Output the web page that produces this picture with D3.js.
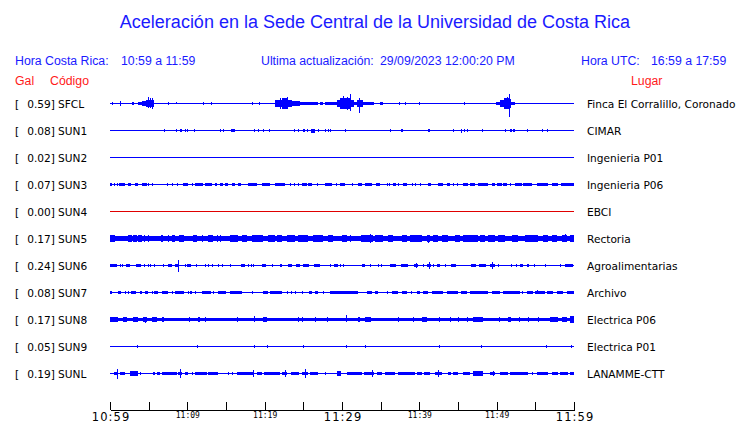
<!DOCTYPE html>
<html><head><meta charset="utf-8">
<script src="https://cdn.jsdelivr.net/npm/d3@7"></script>
<style>
html,body{margin:0;padding:0;background:#fff;}
svg{display:block;}
</style></head>
<body>
<script>
// ---------- DATA ----------
const codes  = ["SFCL","SUN1","SUN2","SUN3","SUN4","SUN5","SUN6","SUN7","SUN8","SUN9","SUNL"];
const peaks  = [0.59,0.08,0.02,0.07,0.00,0.17,0.24,0.08,0.17,0.05,0.19];
const places = ["Finca El Corralillo, Coronado","CIMAR","Ingenieria P01","Ingenieria P06","EBCI","Rectoria",
                "Agroalimentarias","Archivo","Electrica P06","Electrica P01","LANAMME-CTT"];
// continuous background noise (Gal, half amplitude)
const bandAmp = [0,0,0,0,0,0.075,0,0,0.07,0,0];
const tickMinutes = [0,5,10,15,20,25,30,35,40,45,50,55,60];
const tickLabels  = {0:"10:59",10:"11:09",20:"11:19",30:"11:29",40:"11:39",50:"11:49",60:"11:59"};
const majorTicks  = [0,30,60];

// envelope events: [startMin, endMin, upGal, downGal(optional)]
const sfcl = [[0.3,0.3,0.05],[1.29,1.29,0.085],[2.8,3.1,0.05],
 [3.66,4.1,0.05],[4.1,4.7,0.1],[4.7,5.7,0.15],[4.96,4.96,0.27,0.2],[5.17,5.17,0.22,0.2],[5.39,5.39,0.25,0.22],
 [7.54,7.54,0.065],[8.5,8.5,0.05,0],[12.07,12.07,0.065],[13.06,13.06,0.04],[18.3,18.3,0.065],[19.3,19.3,0.04],
 [21.3,21.8,0.13],[21.8,23.5,0.17],[22.3,22.9,0.22],[22.0,22.0,0.22,0.25],[22.85,22.85,0.27,0.26],[23.5,24.6,0.1],[24.6,26.9,0.07],
 [27.1,27.6,0.05],[27.8,29.5,0.07],
 [29.4,29.8,0.15],[29.8,31.2,0.24],[30.17,30.17,0.33,0.25],[30.6,30.6,0.3,0.3],[31.03,31.03,0.45,0.35],[31.2,31.5,0.15],
 [31.5,32.0,0.07],[32.0,32.7,0.15],[32.24,32.24,0.23,0.43],[32.7,34.2,0.07],[34.9,35.3,0.07],[37.4,37.4,0.065],[38.2,38.2,0.04],
 [40.0,40.0,0.065],[45.8,45.8,0.065],
 [49.9,50.4,0.07],[50.4,51.0,0.15],[51.0,51.6,0.22],[51.3,51.3,0.3,0.25],[51.64,51.64,0.46,0.62],[51.6,51.9,0.2],[51.9,52.4,0.07]];
const sun1 = [[7.0,7.0,0.065],[8.5,8.5,0.04],[9.05,9.35,0.065],[9.75,9.75,0.065],[9.95,9.95,0.065],[10.9,10.9,0.065],
 [14.2,14.2,0.065],[14.65,14.65,0.05],[15.65,16.2,0.065],[18.66,18.66,0.065],[19.2,19.2,0.065],[19.8,19.8,0.065],[20.6,20.6,0.065],
 [23.8,23.8,0.065],[24.3,24.3,0.065],[25.0,25.2,0.065],[25.45,25.45,0.05],[26.0,26.5,0.065,0.12],[26.9,26.9,0.065],[27.8,27.8,0.065],
 [28.2,28.2,0.065],[28.45,28.45,0.065],[30.4,30.4,0.04],[36.2,36.2,0.065],[37.6,37.9,0.065],[41.1,41.1,0.065],[41.3,41.3,0.05],
 [44.4,44.4,0.065],[45.4,45.4,0.05,0.12],[45.8,45.8,0.065],[46.2,46.2,0.065],[48.1,48.1,0.065],[51.1,51.1,0.065],[51.7,52.0,0.065],
 [52.05,52.4,0.065],[53.9,53.9,0.065],[55.8,55.8,0.065],[56.5,56.5,0.065]];
const sun2 = [];
const sun3 = [[0,0.2,0.06],[0.56,0.56,0.06],[0.86,0.86,0.06],[1.16,1.94,0.06],[2.28,2.71,0.06],[3.23,3.66,0.06],[4.09,4.74,0.06],
 [4.96,4.96,0.06],[5.39,5.39,0.06],[7.33,7.54,0.06],[7.97,7.97,0.06],[8.62,8.84,0.06],[9.48,10.13,0.06],[10.56,10.56,0.06],
 [10.99,12.07,0.06],[12.28,13.15,0.06],[13.58,13.79,0.06],[14.22,14.65,0.06],[14.87,15.3,0.06],[15.73,16.16,0.06],[16.59,16.94,0.06],
 [17.89,18.97,0.06],[19.61,20.69,0.06],[21.34,22.63,0.06],[23.28,23.28,0.06],[23.84,23.84,0.06],[24.27,24.44,0.06],[24.78,25.43,0.06],
 [25.65,26.16,0.06],[26.72,26.72,0.06],[27.8,28.66,0.06],[29.18,29.18,0.06],[29.74,30.39,0.06],[31.25,31.25,0.06],[32.03,32.54,0.06],
 [32.97,33.84,0.06],[34.35,34.96,0.06],[35.78,35.78,0.06],[36.08,36.08,0.06],[36.64,36.94,0.06],[37.28,37.28,0.06],[37.85,38.36,0.06],
 [39.01,39.01,0.06],[39.44,39.44,0.06],[40.09,40.09,0.06],[41.16,41.51,0.06],[42.46,43.1,0.06],[43.53,43.97,0.06],[44.4,44.4,0.06],
 [44.83,45.04,0.06],[45.69,46.34,0.06],[46.55,47.2,0.06],[47.63,48.92,0.06],[49.35,49.78,0.06],[50.0,50.65,0.06],[50.86,51.29,0.06],
 [51.72,51.72,0.06],[52.37,53.23,0.06],[53.45,54.53,0.06],[55.17,56.68,0.06],[57.11,57.97,0.06],[58.32,60,0.06]];
const sun4 = [];
const sun5 = [[0,0.65,0.125],[2.37,2.8,0.125],[3.02,3.45,0.125],[3.66,4.09,0.125],[4.44,4.44,0.125],[4.96,4.96,0.125],[6.6,6.9,0.125],
 [7.54,7.54,0.125],[7.97,8.4,0.125],[8.92,9.48,0.125],[9.4,9.4,0.17,0.125],[10.78,11.21,0.125],[11.85,11.85,0.125],[12.72,13.36,0.125],
 [13.79,13.79,0.125],[14.22,14.22,0.125],[15.52,16.59,0.125],[17.03,17.67,0.125],[18.32,19.83,0.125],[20.47,21.34,0.125],[21.55,22.2,0.125],
 [22.85,23.92,0.125],[24.35,25.65,0.125],[26.29,27.59,0.125],[28.23,28.88,0.125],[29.96,30.6,0.125],[31.03,31.03,0.125],[32.46,34.05,0.125],
 [33.62,33.62,0.21,0.21],[34.27,35.35,0.125],[35.99,36.64,0.125],[37.71,38.36,0.125],[38.79,40.3,0.125],[40.95,41.38,0.125],
 [41.08,41.08,0.15,0.21],[41.81,42.46,0.125],[42.97,43.75,0.125],[44.61,45.26,0.125],[45.69,47.63,0.125],[47.85,48.49,0.125],
 [48.92,49.78,0.125],[50.22,51.08,0.125],[51.94,52.8,0.125],[53.66,55.39,0.125],[56.03,56.68,0.125],[57.11,57.76,0.125],[58.41,59.05,0.125],
 [58.83,58.83,0.18,0.17],[59.48,60,0.125]];
const sun6 = [[0,0.86,0.065],[1.29,1.29,0.065],[1.51,1.51,0.065],[2.03,2.59,0.065],[3.32,4.01,0.065],[4.44,4.44,0.065],[4.87,4.87,0.065],
 [5.17,5.17,0.065],[5.73,5.73,0.065],[6.81,6.81,0.065],[7.54,7.97,0.065],[8.4,8.92,0.065],[8.75,8.75,0.23,0.27],[9.7,9.7,0.065],
 [9.91,10.47,0.065],[11.08,11.08,0.065],[12.28,12.28,0.065],[12.72,12.72,0.065],[13.23,13.23,0.065],[14.01,14.01,0.065],[14.53,14.53,0.065],
 [15.52,15.52,0.065],[16.94,17.46,0.065],[17.8,17.8,0.065],[18.23,18.23,0.065],[18.53,18.53,0.065],[19.61,20.13,0.065],[20.99,20.99,0.065],
 [21.98,22.28,0.065],[23.06,23.49,0.065],[24.05,24.57,0.065],[24.91,25.73,0.065],[26.42,27.15,0.065],[28.45,28.45,0.065],[29.01,29.44,0.065],
 [29.74,29.74,0.065],[30.17,30.17,0.065],[32.54,32.97,0.065],[33.62,33.62,0.065],[34.61,34.61,0.065],[35.04,35.04,0.065],[36.21,36.94,0.065],
 [37.63,38.58,0.065],[39.35,39.87,0.065],[39.57,39.57,0.12,0.12],[40.52,40.52,0.065],[40.95,41.51,0.065],[41.25,41.25,0.17,0.17],
 [41.81,41.81,0.065],[42.24,42.67,0.065],[43.32,43.32,0.065],[44.09,44.7,0.065],[46.68,47.28,0.065],[47.72,48.58,0.065],[49.14,49.78,0.065],
 [49.44,49.44,0.15,0.13],[50.22,50.22,0.065],[51.85,51.85,0.065],[52.5,52.5,0.065],[53.02,53.45,0.065],[53.88,54.18,0.065],[54.87,54.87,0.065],
 [56.25,56.25,0.065],[58.19,58.19,0.065],[58.83,59.91,0.065]];
const sun7 = [[0,0.2,0.05],[1.0,1.42,0.05],[1.94,1.94,0.05],[2.37,2.37,0.05],[2.71,3.32,0.05],[3.88,4.18,0.05],[4.53,4.87,0.05],
 [5.39,5.39,0.05],[5.73,6.25,0.05],[6.68,7.54,0.05],[7.97,7.97,0.05],[8.4,9.61,0.05],[10.04,10.04,0.05],[10.34,10.56,0.05],[10.99,10.99,0.05],
 [11.85,13.06,0.05],[13.36,13.36,0.05],[14.01,14.96,0.05],[15.52,17.03,0.05],[18.32,18.32,0.05],[19.83,20.47,0.05],[20.69,22.2,0.05],
 [22.85,22.85,0.05],[23.4,23.4,0.05],[23.92,23.92,0.05],[24.78,24.78,0.05],[25.73,26.16,0.05],[26.51,26.94,0.05],[27.59,27.59,0.05],
 [28.45,32.11,0.05],[33.19,33.84,0.05],[34.27,34.7,0.05],[35.78,35.78,0.05],[36.51,37.28,0.05],[37.71,38.36,0.05],[38.92,38.92,0.05],
 [39.65,40.09,0.05],[40.52,41.16,0.05],[41.59,43.1,0.05],[43.53,45.04,0.05],[45.39,46.12,0.05],[46.55,48.92,0.05],[49.35,50.43,0.05],
 [50.86,53.02,0.05],[53.23,53.23,0.05],[53.88,54.74,0.05],[54.96,56.25,0.05],[55.17,55.17,0.1,0.05],[56.46,57.33,0.05],[57.76,58.62,0.05],
 [59.05,60,0.05]];
const sun8 = [[0,1.08,0.11],[1.72,2.16,0.11],[3.02,3.66,0.11],[4.31,4.74,0.11],[4.53,4.53,0.11,0.15],[5.39,6.03,0.11],[6.68,7.03,0.11],
 [10.22,10.22,0.11],[11.42,11.64,0.11],[12.28,12.28,0.11],[16.38,16.38,0.11],[18.66,18.66,0.17,0.1],[19.83,20.26,0.11],[24.27,24.27,0.11],
 [24.87,24.87,0.11],[26.51,26.51,0.11],[28.02,28.02,0.11],[30.52,30.52,0.18,0.1],[32.11,32.33,0.11],[32.97,33.71,0.11],[37.2,37.2,0.11],
 [39.22,39.22,0.11],[40.3,40.95,0.11],[42.59,42.59,0.11],[43.97,43.97,0.11],[45.04,45.04,0.11],[46.12,46.12,0.11],[46.98,48.28,0.11],
 [50.34,50.34,0.11],[51.51,51.85,0.11],[52.93,52.93,0.11],[54.09,54.09,0.11],[55.39,55.39,0.11],[56.9,57.97,0.11],[58.41,59.05,0.11],
 [59.48,60,0.14]];
const sun9 = [[3.53,3.53,0.05],[11.29,11.29,0.05],[18.66,18.66,0.065],[20.35,20.35,0.05],[24.91,24.91,0.05],[30.52,30.52,0.05],
 [32.97,32.97,0.05],[42.59,42.59,0.05],[47.97,47.97,0.05],[56.38,56.38,0.05],[59.61,59.61,0.05]];
const sunl = [[0.56,1.08,0.05],[0.86,0.86,0.2,0.22],[1.29,1.94,0.05],[2.59,3.66,0.08],[3.88,3.88,0.05],[5.6,5.82,0.05],[6.03,6.47,0.05],
 [6.68,8.62,0.05],[8.84,9.27,0.05],[9.05,9.05,0.18,0.18],[9.7,10.13,0.05],[10.56,10.56,0.05],[10.99,12.5,0.05],[12.72,14.01,0.065],
 [15.3,15.3,0.05],[15.73,15.73,0.05],[16.38,18.66,0.05],[18.53,18.53,0.15,0.15],[18.97,19.61,0.05],[19.96,21.98,0.065],[22.2,22.85,0.05],
 [22.63,22.63,0.15,0.15],[23.4,24.44,0.05],[24.87,25.65,0.05],[25.22,25.22,0.2,0.2],[25.86,26.94,0.05],[27.8,27.8,0.05],[29.31,29.87,0.09],
 [30.6,32.54,0.05],[32.89,34.18,0.05],[33.84,33.84,0.13,0.13],[34.48,35.13,0.05],[35.56,36.85,0.05],[37.28,39.44,0.05],[39.65,40.3,0.05],
 [40.65,41.38,0.05],[42.03,42.97,0.05],[42.46,42.46,0.13,0.13],[43.75,44.09,0.05],[44.4,45.04,0.05],[45.69,46.55,0.05],[46.98,48.28,0.075],
 [49.14,49.78,0.05],[49.48,49.48,0.1,0.1],[50.43,51.51,0.05],[51.72,54.09,0.05],[54.53,54.53,0.05],[55.17,56.68,0.05],[57.11,57.89,0.05],
 [58.19,59.27,0.05],[59.48,60,0.05]];
const events = [sfcl,sun1,sun2,sun3,sun4,sun5,sun6,sun7,sun8,sun9,sunl];

// ---------- CHART ----------
const W = 740, H = 423;
const svg = d3.select("body").append("svg").attr("width",W).attr("height",H);
const BLUE = "#1a1aff", RED = "#ff1a1a";
const sans = "'Liberation Sans', Arial, sans-serif";
const dv = "'DejaVu Sans', sans-serif";
const LBL = 10.6;

svg.append("text").attr("x",375).attr("y",28).attr("text-anchor","middle")
  .attr("font-family",sans).attr("font-size",18).attr("fill",BLUE)
  .text("Aceleración en la Sede Central de la Universidad de Costa Rica");

const hdr = [["Hora Costa Rica:",15],["10:59 a 11:59",121],["Ultima actualización:",261],["29/09/2023 12:00:20 PM",380],
             ["Hora UTC:",581],["16:59 a 17:59",651]];
svg.selectAll("text.hdr").data(hdr).join("text").attr("class","hdr")
  .attr("x",d=>d[1]).attr("y",65).attr("font-family",sans).attr("font-size",12.3).attr("fill",BLUE).text(d=>d[0]);
const hdr2 = [["Gal",15],["Código",50],["Lugar",631]];
svg.selectAll("text.hdr2").data(hdr2).join("text").attr("class","hdr2")
  .attr("x",d=>d[1]).attr("y",85).attr("font-family",sans).attr("font-size",12.3).attr("fill",RED).text(d=>d[0]);

const x = d3.scaleLinear().domain([0,60]).range([110,574]);
const row = d3.scalePoint().domain(codes).range([103,373]);
const amp = d3.scaleLinear().domain([0,1]).range([0,20.5]);

const g = svg.append("g").attr("shape-rendering","crispEdges");
codes.forEach((c,i)=>{
  const y0 = row(c);
  const col = peaks[i] === 0 ? "#e00000" : "#0000ff";
  const rg = g.append("g").attr("fill",col);
  const b = bandAmp[i];
  rg.append("rect").attr("x",x(0)).attr("width",x(60)-x(0))
    .attr("y",y0 - amp(b)).attr("height",2*amp(b)+1);
  rg.selectAll("rect.ev").data(events[i]).join("rect").attr("class","ev")
    .attr("x",d=>Math.round(x(d[0])))
    .attr("width",d=>Math.max(1,Math.round(x(d[1]))-Math.round(x(d[0]))))
    .attr("y",d=>y0 - amp(d[2]))
    .attr("height",d=>amp(d[2])+amp(d.length>3?d[3]:d[2])+1);
  const ty = y0 + 4.5;
  svg.append("text").attr("x",15).attr("y",ty).attr("font-family",dv).attr("font-size",LBL).text("[");
  svg.append("text").attr("x",55).attr("y",ty).attr("text-anchor","end").attr("font-family",dv).attr("font-size",LBL)
    .text(d3.format(".2f")(peaks[i])+"]");
  svg.append("text").attr("x",58).attr("y",ty).attr("font-family",dv).attr("font-size",LBL).text(c);
  svg.append("text").attr("x",587).attr("y",ty).attr("font-family",dv).attr("font-size",LBL).text(places[i]);
});

// time axis
const axis = d3.axisBottom(x).tickValues(tickMinutes).tickSizeInner(-8).tickSizeOuter(0).tickPadding(0)
  .tickFormat(d=>tickLabels[d] || "");
const ax = svg.append("g").attr("transform","translate(0,409.5)").call(axis);
ax.select(".domain").attr("stroke","#000").attr("shape-rendering","crispEdges");
ax.selectAll(".tick line").attr("stroke","#000").attr("shape-rendering","crispEdges");
ax.selectAll(".tick text").attr("fill","#000").attr("dy",null)
  .each(function(d){
    const t = d3.select(this);
    if (majorTicks.includes(d)) {
      t.attr("y",11).attr("font-family",dv).attr("font-size",11.5).attr("letter-spacing",1.1).attr("dx",0.6);
    } else {
      t.attr("y",8.5).attr("font-family","'DejaVu Sans Mono', monospace").attr("font-size",8);
    }
  });
</script>
</body></html>
